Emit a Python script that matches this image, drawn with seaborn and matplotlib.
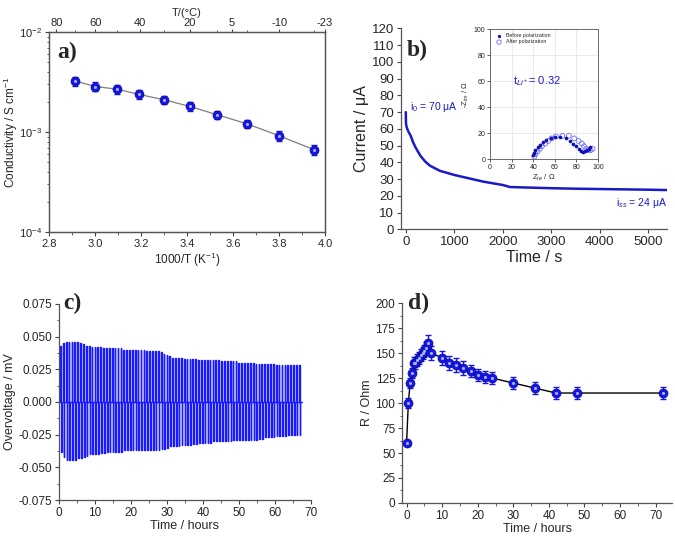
import numpy as np
import pandas as pd
import matplotlib
matplotlib.use("Agg")
import matplotlib.pyplot as plt
import matplotlib.ticker as mticker
import seaborn as sns

# ---------------- data ----------------
# (a) conductivity vs 1000/T
inv_T = [2.914, 3.002, 3.095, 3.193, 3.299, 3.411, 3.532, 3.661, 3.800, 3.950]
conductivity = [3.24e-3, 2.86e-3, 2.69e-3, 2.38e-3, 2.11e-3, 1.81e-3, 1.49e-3, 1.21e-3, 0.92e-3, 0.67e-3]
cond_err = [0.32e-3, 0.28e-3, 0.26e-3, 0.23e-3, 0.21e-3, 0.18e-3, 0.15e-3, 0.12e-3, 0.10e-3, 0.08e-3]
top_T_labels = [80, 60, 40, 20, 5, -10, -23]

# (b) chronoamperometry
time_s = [0, 3, 10, 30, 60, 100, 150, 200, 300, 400, 500, 700, 1000, 1300, 1600,
          2000, 2150, 2500, 3000, 3500, 4000, 4500, 5000, 5380]
current_uA = [70, 64, 62, 60, 58, 56, 52, 49, 44, 40.5, 38, 35, 32.5, 30.5, 28.5,
              26.5, 25.3, 25.0, 24.6, 24.3, 24.1, 23.9, 23.7, 23.5]

# (b) inset Nyquist
zre_before = [40, 41, 42, 44, 46, 49, 52, 56, 60, 65, 70, 74, 77, 80, 82, 84, 86, 88, 90, 92, 93]
zim_before = [3, 5, 7, 9, 11, 13, 15, 16, 17, 17, 16, 14, 12, 10, 8, 6, 5.5, 6, 7, 8, 9]
zre_after = [41, 42, 44, 46, 48, 51, 54, 57, 61, 67, 73, 78, 82, 85, 87, 89, 91, 93, 95]
zim_after = [2, 4, 6, 8, 10, 12, 14, 16, 17.5, 18, 18, 16, 14, 12, 10, 8, 7, 7, 8]

# (c) polarization cycles: upper and lower overvoltage per cycle (mV)
cycle_start_h = 0.3
cycle_step_h = 0.8
upper_mV = [0.043, 0.045, 0.046, 0.046, 0.046, 0.046, 0.046, 0.045, 0.044, 0.043,
            0.043, 0.042, 0.042, 0.042, 0.042, 0.041, 0.041, 0.041, 0.041, 0.041,
            0.041, 0.041, 0.040, 0.040, 0.040, 0.040, 0.040, 0.040, 0.040, 0.040,
            0.039, 0.039, 0.039, 0.039, 0.039, 0.038, 0.037, 0.036, 0.035, 0.034,
            0.034, 0.034, 0.034, 0.033, 0.033, 0.033, 0.033, 0.033, 0.032, 0.032,
            0.032, 0.032, 0.032, 0.032, 0.032, 0.032, 0.031, 0.031, 0.031, 0.031,
            0.031, 0.031, 0.030, 0.030, 0.030, 0.030, 0.030, 0.030, 0.029, 0.029,
            0.029, 0.029, 0.029, 0.029, 0.029, 0.028, 0.028, 0.028, 0.028, 0.028,
            0.028, 0.028, 0.028, 0.028]
lower_mV = [-0.038, -0.042, -0.044, -0.044, -0.044, -0.044, -0.043, -0.043, -0.042, -0.041,
            -0.040, -0.040, -0.040, -0.040, -0.039, -0.039, -0.038, -0.038, -0.038, -0.038,
            -0.038, -0.038, -0.037, -0.037, -0.037, -0.037, -0.037, -0.037, -0.037, -0.037,
            -0.037, -0.037, -0.037, -0.037, -0.037, -0.036, -0.036, -0.035, -0.034, -0.034,
            -0.034, -0.034, -0.033, -0.033, -0.033, -0.033, -0.032, -0.032, -0.031, -0.031,
            -0.031, -0.031, -0.031, -0.030, -0.030, -0.030, -0.030, -0.030, -0.030, -0.030,
            -0.029, -0.029, -0.029, -0.029, -0.029, -0.029, -0.029, -0.029, -0.029, -0.028,
            -0.028, -0.027, -0.027, -0.027, -0.027, -0.026, -0.026, -0.026, -0.026, -0.025,
            -0.025, -0.025, -0.025, -0.025]

# (d) resistance vs time
time_h = [0, 0.5, 1, 1.5, 2, 2.5, 3, 3.5, 4, 4.5, 5, 5.5, 6, 7, 10, 12, 14, 16, 18, 20,
          22, 24, 30, 36, 42, 48, 72]
resistance = [60, 100, 120, 130, 140, 140, 143, 145, 148, 150, 152, 155, 160, 150, 145,
              140, 138, 135, 132, 128, 126, 125, 120, 115, 110, 110, 110]
res_err = [2, 5, 5, 5, 6, 6, 6, 6, 6, 6, 6, 6, 8, 7, 7, 7, 7, 7, 6, 6, 6, 6, 6, 6, 6, 6, 6]

# ---------------- style ----------------
sns.set_style("ticks")
plt.rcParams['font.family'] = ['Liberation Sans', 'DejaVu Sans']
plt.rcParams['mathtext.fontset'] = 'custom'
plt.rcParams['mathtext.rm'] = 'Liberation Sans'
plt.rcParams['mathtext.it'] = 'Liberation Sans:italic'
plt.rcParams['mathtext.bf'] = 'Liberation Sans:bold'
plt.rcParams['axes.unicode_minus'] = False
plt.rcParams['xtick.direction'] = 'out'
plt.rcParams['ytick.direction'] = 'out'

BLUE = '#1515e6'
DBLUE = '#1a1ac8'
HILITE = '#a8b0ff'
serif = ['Liberation Serif', 'DejaVu Serif']

fig = plt.figure(figsize=(6.75, 5.36), dpi=100)


def style_ax(ax, fs):
    ax.tick_params(axis='both', which='major', labelsize=fs, length=3.0, width=0.8,
                   color='#444444', pad=2)
    ax.tick_params(axis='both', which='minor', length=1.8, width=0.6, color='#444444')
    for s in ax.spines.values():
        s.set_color('#555555')
        s.set_linewidth(0.9)


def markers(ax, x, y, size=42):
    df = pd.DataFrame({'x': x, 'y': y})
    sns.scatterplot(data=df, x='x', y='y', ax=ax, color=BLUE, s=size,
                    edgecolor='#0b0b90', linewidth=0.5, zorder=5, legend=False)
    sns.scatterplot(data=df, x='x', y='y', ax=ax, color=HILITE, s=size * 0.12,
                    linewidth=0, zorder=6, legend=False)


# ---------------- (a) ----------------
axA = fig.add_axes([0.0726, 0.567, 0.409, 0.373])
axA.set_yscale('log')
dfA = pd.DataFrame({'x': inv_T, 'y': conductivity})
sns.lineplot(data=dfA, x='x', y='y', ax=axA, color='#7f7f7f', lw=0.9, zorder=2)
axA.errorbar(inv_T, conductivity, yerr=cond_err, fmt='none', ecolor=BLUE,
             elinewidth=1.0, capsize=2, capthick=1.0, zorder=3)
markers(axA, inv_T, conductivity, 42)
axA.set_xlim(2.8, 4.0)
axA.set_ylim(1e-4, 1e-2)
axA.xaxis.set_major_locator(mticker.MultipleLocator(0.2))
axA.xaxis.set_major_formatter(mticker.FormatStrFormatter('%.1f'))
axA.xaxis.set_minor_locator(mticker.MultipleLocator(0.1))
axA.set_xlabel('1000/T (K$^{-1}$)', fontsize=8.5, labelpad=1)
axA.set_ylabel('Conductivity / S cm$^{-1}$', fontsize=8.5)
style_ax(axA, 8)
axA.yaxis.set_label_coords(-0.105, 0.5)
axT = axA.twiny()
axT.set_xlim(2.8, 4.0)
axT.set_xticks([1000.0 / (t + 273.15) for t in top_T_labels])
axT.set_xticklabels([str(t) for t in top_T_labels])
axT.set_xticks([1000.0 / (t + 273.15) for t in [70, 50, 30, 10, 0, -20]], minor=True)
style_ax(axT, 8)
axT.tick_params(axis='x', which='major', pad=0.8, length=2.2)
axT.tick_params(axis='x', which='minor', length=1.3)
axT.set_xlabel('T/(°C)', fontsize=8, labelpad=1.5)
axA.text(0.03, 0.9, 'a)', transform=axA.transAxes, fontsize=17, fontweight='bold',
         family=serif, ha='left', va='center')

# ---------------- (b) ----------------
axB = fig.add_axes([0.594, 0.572, 0.394, 0.375])
dfB = pd.DataFrame({'t': time_s, 'i': current_uA})
sns.lineplot(data=dfB, x='t', y='i', ax=axB, color=DBLUE, lw=1.8)
axB.set_xlim(-100, 5380)
axB.set_ylim(0, 120)
axB.xaxis.set_major_locator(mticker.MultipleLocator(1000))
axB.yaxis.set_major_locator(mticker.MultipleLocator(10))
axB.set_xlabel('Time / s', fontsize=11.5, labelpad=1)
axB.set_ylabel('Current / μA', fontsize=11.5, labelpad=2)
sns.despine(ax=axB)
style_ax(axB, 9.5)
axB.text(80, 73, 'i$_0$ = 70 μA', color=DBLUE, fontsize=7.5, ha='left', va='center')
axB.text(4330, 15.5, 'i$_{ss}$ = 24 μA', color=DBLUE, fontsize=7.5, ha='left', va='center')
axB.text(10, 107, 'b)', fontsize=17, fontweight='bold', family=serif, ha='left', va='center')

# inset
axI = fig.add_axes([0.726, 0.703, 0.160, 0.2425])
sns.scatterplot(x=zre_before, y=zim_before, ax=axI, color='#1010b0', s=7, linewidth=0,
                label='Before polarization', zorder=4)
sns.scatterplot(x=zre_after, y=zim_after, ax=axI, facecolor='none', edgecolor='#6a6aff',
                s=12, linewidth=0.6, label='After polarization', zorder=3)
axI.set_xlim(0, 100)
axI.set_ylim(0, 100)
axI.xaxis.set_major_locator(mticker.MultipleLocator(20))
axI.yaxis.set_major_locator(mticker.MultipleLocator(20))
axI.grid(True, color='#e2e2e2', lw=0.5)
axI.tick_params(labelsize=5, length=2, width=0.5, pad=1.5)
for s in axI.spines.values():
    s.set_linewidth(0.6)
    s.set_color('#555555')
axI.set_xlabel('Z$_{re}$ / Ω', fontsize=5.5, labelpad=1)
axI.set_ylabel('-Z$_{im}$ / Ω', fontsize=5.5, labelpad=2)
axI.legend(loc='upper left', fontsize=3.8, frameon=False, handletextpad=0.3,
           borderaxespad=0.3, labelspacing=0.3, markerscale=0.9)
axI.text(21, 60, 't$_{Li^+}$= 0.32', color=DBLUE, fontsize=8, ha='left', va='center')

# ---------------- (c) ----------------
axC = fig.add_axes([0.0874, 0.067, 0.373, 0.366])
w = 0.2
wt, wv = [], []
for k, (up, lo) in enumerate(zip(upper_mV, lower_mV)):
    t0 = cycle_start_h + k * cycle_step_h
    wt += [t0, t0, t0 + w, t0 + w, t0 + 2 * w, t0 + 2 * w, t0 + cycle_step_h]
    wv += [0, up, up, lo, lo, 0, 0]
dfC = pd.DataFrame({'t': wt, 'v': wv})
sns.lineplot(data=dfC, x='t', y='v', ax=axC, color='#1a1aff', lw=1.0, sort=False,
             estimator=None)
axC.set_xlim(0, 70)
axC.set_ylim(-0.075, 0.075)
axC.xaxis.set_major_locator(mticker.MultipleLocator(10))
axC.xaxis.set_minor_locator(mticker.MultipleLocator(5))
axC.yaxis.set_major_locator(mticker.MultipleLocator(0.025))
axC.yaxis.set_minor_locator(mticker.MultipleLocator(0.0125))
axC.yaxis.set_major_formatter(mticker.FormatStrFormatter('%.3f'))
axC.set_xlabel('Time / hours', fontsize=9, labelpad=1)
axC.set_ylabel('Overvoltage / mV', fontsize=9, labelpad=2)
sns.despine(ax=axC)
style_ax(axC, 8.5)
axC.text(0.016, 1.0, 'c)', transform=axC.transAxes, fontsize=17, fontweight='bold',
         family=serif, ha='left', va='center')

# ---------------- (d) ----------------
axD = fig.add_axes([0.596, 0.0616, 0.40, 0.373])
dfD = pd.DataFrame({'t': time_h, 'r': resistance})
sns.lineplot(data=dfD, x='t', y='r', ax=axD, color='black', lw=1.0, zorder=2)
axD.errorbar(time_h, resistance, yerr=res_err, fmt='none', ecolor=BLUE,
             elinewidth=1.0, capsize=2.2, capthick=1.0, zorder=3)
markers(axD, time_h, resistance, 42)
axD.set_xlim(-1.2, 74.7)
axD.set_ylim(0, 200)
axD.xaxis.set_major_locator(mticker.MultipleLocator(10))
axD.xaxis.set_minor_locator(mticker.MultipleLocator(5))
axD.yaxis.set_major_locator(mticker.MultipleLocator(25))
axD.yaxis.set_minor_locator(mticker.MultipleLocator(12.5))
axD.set_xlabel('Time / hours', fontsize=9, labelpad=0.5)
axD.set_ylabel('R / Ohm', fontsize=9, labelpad=2)
sns.despine(ax=axD)
style_ax(axD, 8.5)
axD.text(0.022, 1.0, 'd)', transform=axD.transAxes, fontsize=17, fontweight='bold',
         family=serif, ha='left', va='center')

fig.savefig('out.png', dpi=100)
